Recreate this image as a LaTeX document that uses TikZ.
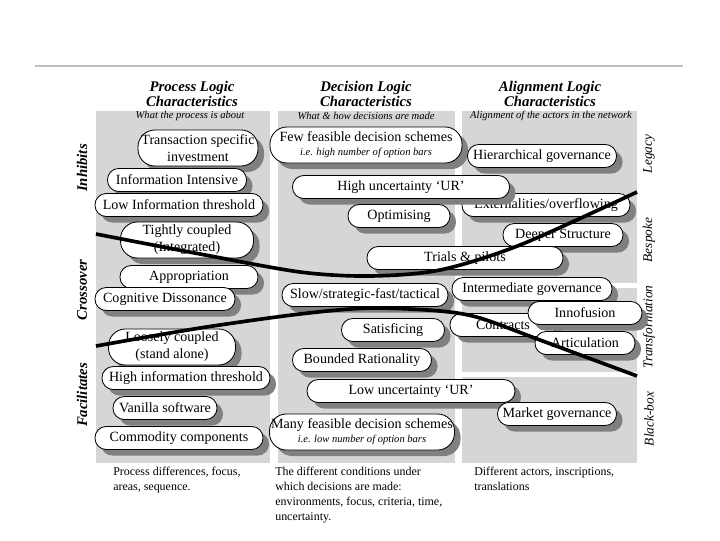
\documentclass[tikz,border=0pt]{standalone}
\usepackage{fontspec}
\setmainfont{Liberation Serif}
\usetikzlibrary{shadows}
\definecolor{panelgray}{RGB}{214,214,214}
\definecolor{shadegray}{RGB}{128,128,128}
\definecolor{rulegray}{RGB}{192,192,192}
\def\pxu{0.025cm}

\begin{document}
\begin{tikzpicture}[x=0.025cm,y=-0.025cm,
  pill/.style={draw,fill=white,line width=0.6pt,rounded corners=8pt,inner sep=1pt,
    minimum height=23*\pxu,font=\fontsize{10}{12}\selectfont,align=center,
    drop shadow={shadow xshift=4.3pt,shadow yshift=-4.3pt,fill=shadegray,opacity=1}},
  tallpill/.style={pill,rounded corners=12pt,minimum height=36*\pxu},
  colhead/.style={font=\fontsize{10.5}{10.8}\selectfont\bfseries\itshape,align=center},
  colsub/.style={font=\fontsize{7.5}{9}\selectfont\itshape},
  sidel/.style={rotate=90,font=\fontsize{10.5}{12}\selectfont\bfseries\itshape},
  sider/.style={rotate=90,font=\fontsize{9.5}{12}\selectfont\itshape},
  note/.style={anchor=north west,align=left,inner sep=0pt,font=\fontsize{8.5}{10.7}\selectfont},
  divide/.style={line width=2.6pt}]
\useasboundingbox (0,0) rectangle (720,540);

% rule and column panels
\draw[rulegray,line width=1.4pt](35,66)--(683,66);
\fill[panelgray](96,111)rectangle(270,463);
\fill[panelgray](278,111)rectangle(455,463);
\fill[panelgray](462,111)rectangle(637,283);
\fill[panelgray](462,288)rectangle(637,372);
\fill[panelgray](462,377)rectangle(637,463);

% column headings
\node[colhead] (hproc) at (192,94) {Process Logic\\Characteristics};
\node[colhead] (hdec) at (366,94) {Decision Logic\\Characteristics};
\node[colhead] (hali) at (550,94) {Alignment Logic\\Characteristics};
\node[colsub] (sproc) at (190,116) {What the process is about};
\node[colsub] (sdec) at (366,116) {What \& how decisions are made};
\node[colsub] (sali) at (551,116) {Alignment of the actors in the network};

% side labels
\node[sidel] (inhib) at (82,168) {Inhibits};
\node[sidel] (cross) at (82,290) {Crossover};
\node[sidel] (facil) at (82,395) {Facilitates};
\node[sider] (legacy) at (649,154) {Legacy};
\node[sider] (bespoke) at (649,240) {Bespoke};
\node[sider] (transf) at (649,327) {Transformation};
\node[sider] (blackbox) at (649,419) {Black-box};

% process logic
\node[tallpill,minimum width=120*\pxu] (tsi) at (198,148) {Transaction specific\\investment};
\node[pill,minimum width=139*\pxu] (ii) at (177,180) {Information Intensive};
\node[pill,minimum width=168*\pxu] (lit) at (179,205) {Low Information threshold};
\node[tallpill,minimum width=133*\pxu] (tc) at (187,240) {Tightly coupled\\(Integrated)};
\node[pill,minimum width=138*\pxu] (app) at (189,277) {Appropriation};
\node[pill,minimum width=140*\pxu] (cd) at (165,299) {Cognitive Dissonance};
\node[tallpill,minimum width=127*\pxu] (lc) at (172,347) {Loosely coupled\\(stand alone)};
\node[pill,minimum width=168*\pxu] (hit) at (186,378) {High information threshold};
\node[pill,minimum width=104*\pxu] (vs) at (165,408) {Vanilla software};
\node[pill,minimum width=168*\pxu] (cc) at (179,438) {Commodity components};

% decision and alignment logic
\node[tallpill,minimum width=192*\pxu] (few) at (366,145) {Few feasible decision schemes\\[-2pt]{\fontsize{7.5}{9}\selectfont\itshape i.e. high number of option bars}};
\node[pill,minimum width=149*\pxu] (hg) at (542,156) {Hierarchical governance};
\node[pill,minimum width=168*\pxu] (ext) at (546,205) {Externalities/overflowing};
\node[pill,minimum width=217*\pxu] (hu) at (401,187) {High uncertainty `UR'};
\node[pill,minimum width=102*\pxu] (opt) at (399,216) {Optimising};
\node[pill,minimum width=120*\pxu] (ds) at (563,235) {Deeper Structure};
\node[pill,minimum width=196*\pxu] (trials) at (465,258) {Trials \& pilots};
\node[pill,minimum width=160*\pxu] (ig) at (532,289) {Intermediate governance};
\node[pill,minimum width=166*\pxu] (slow) at (365,295) {Slow/strategic-fast/tactical};
\node[pill,minimum width=106*\pxu] (contr) at (503,325) {Contracts};
\node[pill,minimum width=114*\pxu] (inno) at (585,313) {Innofusion};
\node[pill,minimum width=100*\pxu] (art) at (585,343) {Articulation};
\node[pill,minimum width=103*\pxu] (sat) at (393,330) {Satisficing};
\node[pill,minimum width=139*\pxu] (br) at (362,360) {Bounded Rationality};
\node[pill,minimum width=208*\pxu] (lu) at (411,391) {Low uncertainty `UR'};
\node[pill,minimum width=119*\pxu] (mg) at (557,414) {Market governance};
\node[tallpill,minimum width=185*\pxu] (many) at (362,432) {Many feasible decision schemes\\[-2pt]{\fontsize{7.5}{9}\selectfont\itshape i.e. low number of option bars}};

% dividing curves
\draw[divide] plot[smooth] coordinates {(96,234)(200,254)(300,272)(370,276)(440,270)(520,245)(637,192)};
\draw[divide] plot[smooth] coordinates {(96,346)(200,328)(300,314)(370,308)(440,311)(480,318)(540,340)(637,376)};

% notes under the columns
\node[note] (nproc) at (113,467) {Process differences, focus,\\areas, sequence.};
\node[note] (ndec) at (275,467) {The different conditions under\\which decisions are made:\\environments, focus, criteria, time,\\uncertainty.};
\node[note] (nali) at (474,467) {Different actors, inscriptions,\\translations};
\end{tikzpicture}
\end{document}
